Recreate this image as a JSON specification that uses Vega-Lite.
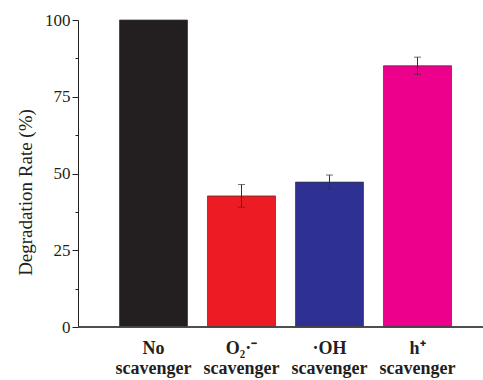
{
  "$schema": "https://vega.github.io/schema/vega-lite/v6.json",
  "width": 405,
  "height": 307,
  "autosize": "none",
  "padding": {"left": 78, "top": 20, "right": 0, "bottom": 53},
  "background": "white",
  "config": {"view": {"stroke": null}, "font": "Liberation Serif"},
  "resolve": {"axis": {"y": "independent"}},
  "data": {
    "values": [
      {"label": "No|scavenger", "rate": 100, "lo": null, "hi": null},
      {"label": "O₂·⁻|scavenger", "rate": 42.7, "lo": 39.0, "hi": 46.4},
      {"label": "·OH|scavenger", "rate": 47.2, "lo": 44.9, "hi": 49.5},
      {"label": "h⁺|scavenger", "rate": 85.1, "lo": 82.3, "hi": 87.9}
    ]
  },
  "layer": [
    {
      "mark": {"type": "bar", "stroke": "#333333", "strokeWidth": 0.7},
      "encoding": {
        "x": {
          "field": "label",
          "type": "nominal",
          "sort": null,
          "scale": {"range": [41.5, 373.5], "paddingInner": 0.227, "paddingOuter": 0},
          "axis": {
            "title": null,
            "ticks": false,
            "domain": false,
            "labelAngle": 0,
            "labelFontWeight": "bold",
            "labelFontSize": 18,
            "labelLineHeight": 20,
            "labelPadding": 12,
            "labelColor": "#231f20",
            "labelExpr": "split(datum.label, '|')"
          }
        },
        "y": {
          "field": "rate",
          "type": "quantitative",
          "title": "Degradation Rate (%)",
          "scale": {"domain": [0, 100], "nice": false},
          "axis": {
            "orient": "left",
            "title": "Degradation Rate (%)",
            "titleFontSize": 19,
            "titleFontWeight": "normal",
            "titleColor": "#231f20",
            "titlePadding": 9,
            "titleY": 172,
            "grid": false,
            "values": [0, 25, 50, 75, 100],
            "labelFontSize": 17,
            "labelColor": "#231f20",
            "labelPadding": 2,
            "domainColor": "#231f20",
            "tickColor": "#231f20",
            "tickSize": 6
          }
        },
        "color": {
          "field": "label",
          "type": "nominal",
          "sort": null,
          "scale": {
            "domain": ["No|scavenger", "O₂·⁻|scavenger", "·OH|scavenger", "h⁺|scavenger"],
            "range": ["#231f20", "#ed1c24", "#2e3192", "#ec008c"]
          },
          "legend": null
        }
      }
    },
    {
      "transform": [{"filter": "datum.lo != null"}],
      "mark": {"type": "errorbar", "ticks": {"size": 7, "color": "#333333"}, "rule": {"color": "#333333", "strokeWidth": 1}},
      "encoding": {
        "x": {"field": "label", "type": "nominal", "sort": null},
        "y": {"field": "lo", "type": "quantitative", "axis": null},
        "y2": {"field": "hi"}
      }
    },
    {
      "mark": {"type": "rule", "color": "#444444", "strokeWidth": 1},
      "encoding": {
        "y": {
          "datum": 0,
          "type": "quantitative",
          "axis": {
            "orient": "left",
            "title": null,
            "labels": false,
            "domain": false,
            "grid": false,
            "values": [12.5, 37.5, 62.5, 87.5],
            "tickColor": "#231f20",
            "tickSize": 3
          }
        }
      }
    }
  ]
}
